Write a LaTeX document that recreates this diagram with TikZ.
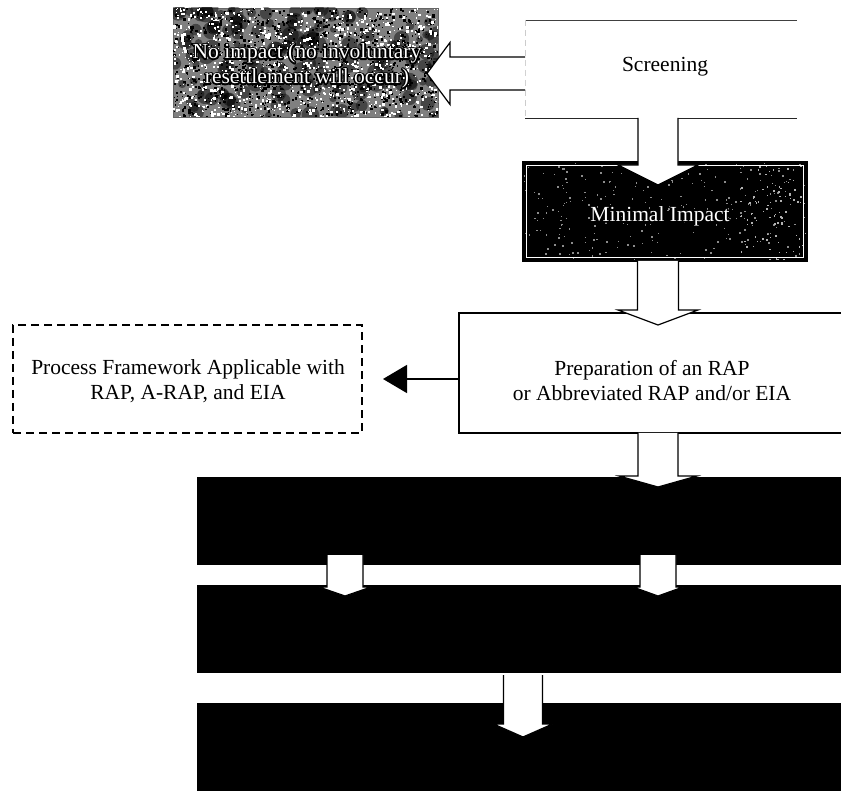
\documentclass[tikz,border=0pt]{standalone}
\usepackage{fontspec}
\setmainfont{Liberation Serif}
\usetikzlibrary{calc,arrows.meta}
\newcommand\outl[1]{\leavevmode\rlap{\textcolor{black}{\special{pdf:literal direct 1 Tr 3 w 1 j}#1\special{pdf:literal direct 0 Tr}}}\textcolor{white}{#1}}
\newcommand\blockdown[6]{% #1 top centre, #2 shaft length, #3 head length, #4 shaft half width, #5 head half width, #6 options
  \draw[blk,#6] ($(#1)+(-#4,0)$) -- ++(0,#2) -- ++(#4-#5,0) -- ++(#5,#3) -- ++(#5,-#3) -- ++(#4-#5,0) -- ++(0,-#2);}
\begin{document}
\begin{tikzpicture}[x=1pt,y=-1pt,
  lbl/.style={font=\fontsize{21.5}{25}\selectfont, align=center, inner sep=0pt},
  blk/.style={draw=black, fill=white, line width=1.2pt, line join=miter},
  boxn/.style={inner sep=0pt, outer sep=0pt},
  band/.style={boxn, fill=black, minimum width=648pt, minimum height=88pt, anchor=north west}]
\useasboundingbox (0,0) rectangle (841,791);
\fill[white] (0,0) rectangle (841,791);

% --- No impact box (grey mottled)
\node[boxn, draw=black!60, line width=0.6pt, fill=black!50, minimum width=265pt, minimum height=109pt] (noimp) at (305.5,62.5) {};
\begin{scope}
  \clip (noimp.north west) rectangle (noimp.south east);
  \pgfmathsetseed{42}
  \foreach \i in {1,...,160}{
    \pgfmathsetmacro\rx{173+265*rnd}\pgfmathsetmacro\ry{8+109*rnd}\pgfmathsetmacro\rs{3+6*rnd}
    \fill[black, opacity=0.45] (\rx,\ry) circle (\rs);}
  \foreach \i in {1,...,1100}{
    \pgfmathsetmacro\rx{173+265*rnd}\pgfmathsetmacro\ry{8+109*rnd}\pgfmathsetmacro\rs{0.8+2*rnd}
    \fill[black] (\rx,\ry) rectangle ++(\rs,\rs);}
  \foreach \i in {1,...,1000}{
    \pgfmathsetmacro\rx{173+265*rnd}\pgfmathsetmacro\ry{8+109*rnd}\pgfmathsetmacro\rs{0.8+2*rnd}
    \fill[white] (\rx,\ry) rectangle ++(\rs,\rs);}
\end{scope}
\node[lbl] (noimptxt) at (307,66) {\outl{No impact (no involuntary}\\\outl{resettlement will occur)}};

% --- Screening
\node[boxn, minimum width=272pt, minimum height=98pt] (screen) at (661,69) {};
\draw[black!75, line width=0.8pt] (screen.north west) -- (screen.north east);
\draw[black!85, line width=0.9pt] (screen.south west) -- (screen.south east);
\draw[black!20, line width=0.5pt, dash pattern=on 6pt off 4pt] (screen.north west) -- (screen.south west);
\node[lbl] (screentxt) at (665,67) {Screening};

% left block arrow Screening -> No impact
\coordinate (la) at (screen.west |- 0,73.5);
\draw[blk] ($(la)+(0,-16.5)$) -- ++(-75,0) -- ++(0,-14.5) -- ++(-23,31) -- ++(23,31) -- ++(0,-14.5) -- ++(75,0);

% --- Minimal impact box (dark mottled)
\node[boxn, draw=black, line width=2pt, fill=black, minimum width=284pt, minimum height=99pt] (minimal) at (665,211.5) {};
\begin{scope}
  \clip (minimal.north west) rectangle (minimal.south east);
  \pgfmathsetseed{7}
  \foreach \i in {1,...,260}{
    \pgfmathsetmacro\rx{523+284*rnd}\pgfmathsetmacro\ry{162+99*rnd}\pgfmathsetmacro\rs{0.7+1.3*rnd}
    \fill[black!45] (\rx,\ry) rectangle ++(\rs,\rs);}
  \foreach \i in {1,...,90}{
    \pgfmathsetmacro\rx{740+67*rnd}\pgfmathsetmacro\ry{165+95*rnd}\pgfmathsetmacro\rs{0.7+1.5*rnd}
    \fill[black!30] (\rx,\ry) rectangle ++(\rs,\rs);}
\end{scope}
\draw[white, line width=0.8pt] ($(minimal.north west)+(3.5,3.5)$) rectangle ($(minimal.south east)+(-3.5,-3.5)$);
\draw[black, line width=2pt] (minimal.north west) rectangle (minimal.south east);
\node[lbl] (minimaltxt) at (660,216) {\outl{Minimal Impact}};

\coordinate (col) at (658,0);
\coordinate (a1) at (screen.south -| col);
\blockdown{a1}{47}{20}{20}{40}{}

% --- Preparation box
\node[boxn, draw=black, line width=1.5pt, minimum width=386pt, minimum height=120pt] (prep) at (652,373) {};
\node[lbl] (preptxt) at (652,381) {Preparation of an RAP\\or Abbreviated RAP and/or EIA};
\coordinate (a2) at (minimal.south -| col);
\blockdown{a2}{49}{15}{20.5}{40}{}

% --- Dashed box
\node[boxn, draw=black, line width=2pt, dash pattern=on 8pt off 5pt, minimum width=349pt, minimum height=108pt] (dash) at (187.5,379) {};
\node[lbl] (dashtxt) at (188,381.5) {Process Framework Applicable with\\RAP, A-RAP, and EIA};
\draw[line width=1.5pt, -{Triangle[length=24pt,width=28pt]}, shorten >=21pt] (dash.east -| prep.west) -- (dash.east);

% --- Black bands
\node[band] (band1) at (197,477) {};
\node[band] (band2) at (197,585) {};
\node[band] (band3) at (197,703) {};

\coordinate (a3) at (prep.south -| col);
\blockdown{a3}{43}{11}{20}{39}{}

\coordinate (cl) at (345,0);
\coordinate (a4) at ($(band1.south -| cl)+(0,-10)$);
\blockdown{a4}{32}{9}{18}{26}{}
\coordinate (a5) at ($(band1.south -| col)+(0,-10)$);
\blockdown{a5}{32}{9}{18}{25}{}

\coordinate (cm) at (523,0);
\coordinate (a6) at ($(band2.south -| cm)+(0,2)$);
\blockdown{a6}{49}{13}{19.5}{29.5}{}
\end{tikzpicture}
\end{document}
